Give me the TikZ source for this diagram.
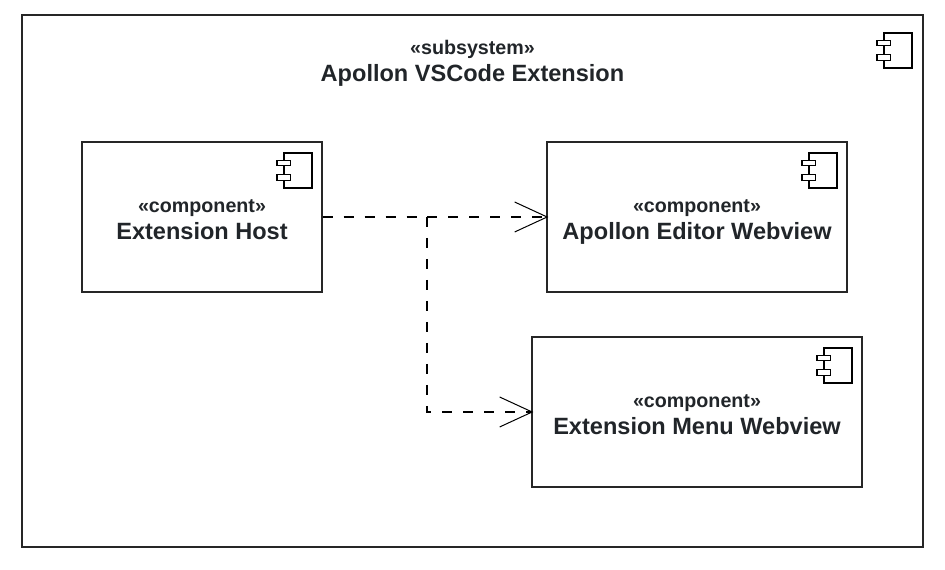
\documentclass[tikz,border=0pt]{standalone}
\usepackage{fontspec}
\usepackage{xcolor}
\usetikzlibrary{arrows.meta,positioning}
\setmainfont{Liberation Sans}
\definecolor{inkdark}{HTML}{212529}
\newcommand{\stereo}[1]{{\fontsize{11.2}{15.8}\selectfont\rule{0pt}{13.3pt}#1}}
\tikzset{
    boxframe/.style={rectangle, draw=black!85, line width=0.027cm, fill=white, inner sep=0pt, text=inkdark, align=center, text depth=3pt, font=\bfseries\fontsize{13.4}{15.8}\selectfont},
    titlelabel/.style={inner sep=0pt, text=inkdark, align=center, text depth=3pt, font=\bfseries\fontsize{13.4}{15.8}\selectfont},
    dependency/.style={draw=black, line width=0.024cm, dash pattern=on 0.2cm off 0.22cm},
    opentip/.style={shorten >=-0.04cm, -{Straight Barb[length=0.65cm, width=0.6cm, line width=0.02cm]}},
    componenticon/.pic={
        \draw[line width=0.033cm] (-0.77,-0.24) rectangle (-0.22,-0.93);
        \draw[line width=0.03cm, fill=white] (-0.91,-0.38) rectangle (-0.64,-0.48);
        \draw[line width=0.03cm, fill=white] (-0.91,-0.66) rectangle (-0.64,-0.78);
    }
}
\begin{document}
\begin{tikzpicture}
    \useasboundingbox (0,0) rectangle (18.9,11.4);
    \fill[white] (0,0) rectangle (18.9,11.4);
    % outer frame
    \node[boxframe, minimum width=18.02cm, minimum height=10.64cm] (subsystem) at (9.45,5.78) {};
    \node[titlelabel] (subsystemtitle) at (9.45,10.22) {\stereo{«subsystem»}\\Apollon VSCode Extension};
    \pic[shift={(-0.02,-0.14)}] at (subsystem.north east) {componenticon};
    % components
    \node[boxframe, minimum width=4.8cm, minimum height=3cm] (host) at (4.04,7.06) {\stereo{«component»}\\Extension Host};
    \node[boxframe, minimum width=6cm, minimum height=3cm] (editor) at (13.94,7.06) {\stereo{«component»}\\Apollon Editor Webview};
    \node[boxframe, minimum width=6.6cm, minimum height=3cm] (menu) at (13.94,3.16) {\stereo{«component»}\\Extension Menu Webview};
    \pic at (host.north east) {componenticon};
    \pic at (editor.north east) {componenticon};
    \pic at (menu.north east) {componenticon};
    % connectors
    \coordinate (junction) at (8.54,7.06);
    \draw[dependency] (host.east) -- (junction);
    \draw[dependency, opentip] (junction) -- (editor.west);
    \draw[dependency, opentip] (junction) |- (menu.west);
\end{tikzpicture}
\end{document}
